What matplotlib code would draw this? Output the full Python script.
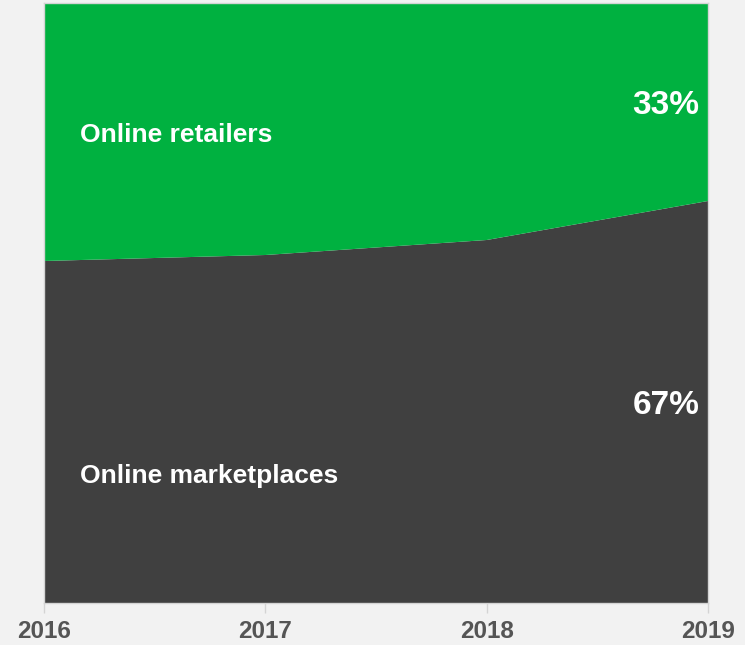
import matplotlib
matplotlib.use("Agg")
import matplotlib.pyplot as plt

# Share of online sales by channel (percent)
years = [2016, 2017, 2018, 2019]
marketplaces = [57.0, 58.0, 60.5, 67.0]
retailers = [43.0, 42.0, 39.5, 33.0]
series_names = ["Online marketplaces", "Online retailers"]
end_labels = ["67%", "33%"]

plt.rcParams["font.family"] = ["Liberation Sans", "DejaVu Sans"]

BG = "#f2f2f2"
DARK = "#404040"
GREEN = "#00b140"
EDGE = "#d4d4d4"

fig = plt.figure(figsize=(7.45, 6.45), dpi=100, facecolor=BG)
ax = fig.add_axes([44 / 745, 42 / 645, 664 / 745, 600 / 645])
ax.set_facecolor(BG)

ax.stackplot(years, marketplaces, retailers, colors=[DARK, GREEN], linewidth=0)

ax.set_xlim(years[0], years[-1])
ax.set_ylim(0, 100)
ax.set_yticks([])
ax.set_xticks(years)
ax.set_xticklabels([str(y) for y in years], fontsize=17.5, fontweight="bold", color="#555555")
ax.tick_params(axis="x", length=7, width=1, color=EDGE, pad=5)
for s in ax.spines.values():
    s.set_color(EDGE)
    s.set_linewidth(1)

# Series names inside the areas
ax.text(2016.163, 78.0, series_names[1], fontsize=19, fontweight="bold", color="white",
        ha="left", va="center")
ax.text(2016.163, 21.2, series_names[0], fontsize=19, fontweight="bold", color="white",
        ha="left", va="center")

# End-of-period shares
ax.text(2018.96, 83.0, end_labels[1], fontsize=24, fontweight="bold", color="white",
        ha="right", va="center")
ax.text(2018.96, 33.0, end_labels[0], fontsize=24, fontweight="bold", color="white",
        ha="right", va="center")

fig.savefig("out.png", dpi=100, facecolor=BG)
